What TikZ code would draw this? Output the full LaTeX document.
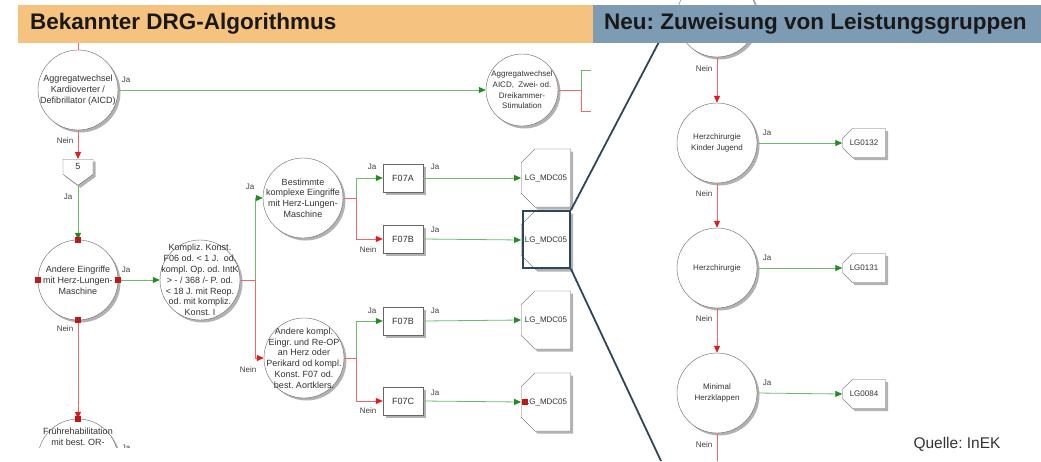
\documentclass[tikz,border=0pt]{standalone}
\usepackage{fontspec}
\setmainfont{Liberation Sans}
\usetikzlibrary{arrows.meta,positioning,shapes.misc,shapes.symbols,shadows}

\definecolor{drgorange}{HTML}{F6C27F}
\definecolor{lgblue}{HTML}{7E9BB4}
\definecolor{jaline}{HTML}{6CBB6C}
\definecolor{jatip}{HTML}{238C23}
\definecolor{neinline}{HTML}{EA6B6D}
\definecolor{neintip}{HTML}{E31B1B}
\definecolor{zoomblue}{HTML}{2E4659}

\begin{document}
\frenchspacing
\begin{tikzpicture}[
    x=1pt, y=-1pt,
    shadowed/.style={drop shadow={shadow xshift=2.5pt, shadow yshift=-2.5pt, fill=black!30, opacity=1}},
    dec/.style={circle, draw=black!60, fill=white, minimum size=80pt, inner sep=0pt, shadowed},
    ctext/.style={align=center, font=\fontsize{9}{10.8}\selectfont, text=black!80, inner sep=0pt},
    rtext/.style={ctext, font=\fontsize{8}{10.7}\selectfont},
    drg/.style={rectangle, draw=black!60, fill=white, minimum width=40pt, minimum height=28pt, font=\fontsize{9}{10}\selectfont, text=black!80, shadowed},
    lg/.style={chamfered rectangle, chamfered rectangle corners={north west,south west}, chamfered rectangle sep=7pt, draw=black!60, fill=white, minimum width=43pt, minimum height=29pt, inner sep=0pt, font=\fontsize{8}{10}\selectfont, text=black!80, shadowed},
    mdc/.style={lg, chamfered rectangle sep=10pt, minimum width=42pt, minimum height=58pt},
    jump/.style={signal, signal to=south, signal pointer angle=108, draw=black!60, fill=white, minimum width=30pt, minimum height=17pt, inner sep=0pt, font=\fontsize{9}{10}\selectfont, text=black!80, shadowed},
    japlain/.style={draw=jaline, line width=0.8pt},
    neinplain/.style={draw=neinline, line width=0.8pt},
    ja/.style={japlain, -{Triangle[length=7pt, width=6pt, color=jatip]}},
    nein/.style={neinplain, -{Triangle[length=7pt, width=6pt, color=neintip]}},
    lbl/.style={font=\fontsize{8}{10}\selectfont, text=black!75, inner sep=0pt},
    handle/.style={rectangle, fill=neintip!85!black, minimum size=6pt, inner sep=0pt},
    band/.style={anchor=west, inner sep=0pt, font=\fontsize{22.5}{24}\selectfont\bfseries, text=black!90}
]
    \useasboundingbox (0,0) rectangle (1041,461);

    % links: bekannter Algorithmus
    \begin{scope}
        \clip (0,43) rectangle (593,447);
        \node[dec, label={[ctext]center:Aggregatwechsel\\Kardioverter /\\Defibrillator (AICD)}] (AICD) at (78,90) {};
        \node[dec, minimum size=72pt, label={[rtext]center:Aggregatwechsel\\AICD,\ \ Zwei- od.\\Dreikammer-\\Stimulation}] (AICD2) at (522,90) {};
        \node[jump, anchor=north] (S5) at (78,159) {5};
        \node[dec, label={[ctext]center:Andere Eingriffe\\mit Herz-Lungen-\\Maschine}] (HLM) at (78,280) {};
        \node[dec, label={[ctext]center:Kompliz. Konst.\\F06 od. < 1 J.\ \ od.\\kompl. Op. od. IntK\\> - / 368 /- P. od.\\< 18 J. mit Reop.\\od. mit kompliz.\\Konst. I}] (KK) at (200,280) {};
        \node[dec, label={[ctext]center:Bestimmte\\komplexe Eingriffe\\mit Herz-Lungen-\\Maschine}] (BKE) at (303,198) {};
        \node[dec, label={[ctext]center:Andere kompl.\\Eingr. und Re-OP\\an Herz oder\\Perikard od kompl.\\Konst. F07 od.\\best. Aortklers.}] (AKE) at (304,358) {};
        \node[dec, label={[ctext, anchor=north, yshift=-9pt]north:Frührehabilitation\\mit best. OR-}] (FR) at (78,459) {};

        \node[drg] (F07A) at (403,178) {F07A};
        \node[drg] (F07B) at (403,239) {F07B};
        \node[drg] (F07Bx) at (403,321) {F07B};
        \node[drg] (F07C) at (403,401) {F07C};
        \node[mdc] (M1) at (546,178) {LG\_MDC05};
        \node[mdc] (M2) at (546,240) {LG\_MDC05};
        \node[mdc] (M3) at (546,320) {LG\_MDC05};
        \node[mdc] (M4) at (546,402) {LG\_MDC05};

        \coordinate (inA) at (78,43);
        \coordinate (bB) at (581,90);
        \coordinate (bBt) at (591,70);
        \coordinate (bBb) at (591,111);
        \coordinate (bKK) at (255,280);
        \coordinate (bBKE) at (356,198);
        \coordinate (bAKE) at (356,358);

        \draw[neinplain] (inA) -- (AICD.north);
        \draw[ja] (AICD.east) -- (AICD2.west);
        \draw[neinplain] (AICD2.east) -- (bB);
        \draw[japlain] (bB) |- (bBt);
        \draw[neinplain] (bB) |- (bBb);
        \draw[nein] (AICD.south) -- (S5.north);
        \draw[ja] (S5.south) -- (HLM.north);
        \draw[ja] (HLM.east) -- (KK.west);
        \draw[nein] (HLM.south) -- (FR.north);
        \draw[neinplain] (KK.east) -- (bKK);
        \draw[ja] (bKK) |- (BKE.west);
        \draw[nein] (bKK) |- (AKE.west);
        \draw[neinplain] (BKE.east) -- (bBKE);
        \draw[ja] (bBKE) |- (F07A.west);
        \draw[nein] (bBKE) |- (F07B.west);
        \draw[neinplain] (AKE.east) -- (bAKE);
        \draw[ja] (bAKE) |- (F07Bx.west);
        \draw[nein] (bAKE) |- (F07C.west);
        \draw[ja] (F07A.east) -- (M1.west);
        \draw[ja] (F07B.east) -- (M2.west);
        \draw[ja] (F07Bx.east) -- (M3.west);
        \draw[ja] (F07C.east) -- (M4.west);

        \foreach \a in {north,south,east,west}
            \node[handle] (h\a) at (HLM.\a) {};
        \node[handle] (hFR) at (FR.north) {};
        \node[handle] (hM4) at ([xshift=4pt]M4.west) {};

        \node[lbl] (jaAICD) at (126,80) {Ja};
        \node[lbl] (neinAICD) at (65,141) {Nein};
        \node[lbl] (jaS5) at (68,197) {Ja};
        \node[lbl] (jaHLM) at (126,270) {Ja};
        \node[lbl] (neinHLM) at (65,329) {Nein};
        \node[lbl] (jaKK) at (250,187) {Ja};
        \node[lbl] (neinKK) at (248,370) {Nein};
        \node[lbl] (jaBKE) at (372,167) {Ja};
        \node[lbl] (jaF07A) at (435,167) {Ja};
        \node[lbl] (neinBKE) at (368,250) {Nein};
        \node[lbl] (jaF07B) at (435,230) {Ja};
        \node[lbl] (jaAKE) at (372,311) {Ja};
        \node[lbl] (jaF07Bx) at (435,311) {Ja};
        \node[lbl] (neinAKE) at (368,411) {Nein};
        \node[lbl] (jaF07C) at (435,393) {Ja};
        \node[lbl] (jaFR) at (126,448) {Ja};
    \end{scope}

    % rechts: Leistungsgruppen
    \node[dec] (R0) at (717,17) {};
    \node[dec, label={[rtext]center:Herzchirurgie\\Kinder Jugend}] (HKJ) at (717,143) {};
    \node[dec, label={[rtext]center:Herzchirurgie}] (HC) at (717,268) {};
    \node[dec, label={[rtext]center:Minimal\\Herzklappen}] (MH) at (717,393) {};
    \node[lg] (L132) at (864,143) {LG0132};
    \node[lg] (L131) at (864,268) {LG0131};
    \node[lg] (L084) at (864,394) {LG0084};
    \coordinate (rEnd) at (717,461);

    \draw[nein] (R0.south) -- (HKJ.north);
    \draw[nein] (HKJ.south) -- (HC.north);
    \draw[nein] (HC.south) -- (MH.north);
    \draw[neinplain] (MH.south) -- (rEnd);
    \draw[ja] (HKJ.east) -- (L132.west);
    \draw[ja] (HC.east) -- (L131.west);
    \draw[ja] (MH.east) -- (L084.west);

    \node[lbl] (neinR0) at (704,69) {Nein};
    \node[lbl] (jaHKJ) at (767,133) {Ja};
    \node[lbl] (neinHKJ) at (704,194) {Nein};
    \node[lbl] (jaHC) at (767,258) {Ja};
    \node[lbl] (neinHC) at (704,319) {Nein};
    \node[lbl] (jaMH) at (767,383) {Ja};
    \node[lbl] (neinMH) at (704,445) {Nein};

    % Lupe
    \node[draw=zoomblue, line width=1.8pt, minimum width=47pt, minimum height=57pt, inner sep=0pt] (Z) at (546.5,239.5) {};
    \coordinate (zTop) at (660,40);
    \coordinate (zBot) at (661,461);
    \draw[zoomblue, line width=1.8pt] (Z.north east) -- (zTop);
    \draw[zoomblue, line width=1.8pt] (Z.south east) -- (zBot);

    % Kopfzeilen
    \fill[drgorange] (18,5) rectangle (593,43);
    \fill[lgblue] (593,5) rectangle (1041,43);
    \node[band] (hDRG) at (30,24) {Bekannter DRG-Algorithmus};
    \node[band] (hLG) at (604,24) {Neu: Zuweisung von Leistungsgruppen};

    \node[font=\fontsize{15.5}{17}\selectfont, text=black!80, inner sep=0pt] (src) at (957,444) {Quelle: InEK};
\end{tikzpicture}
\end{document}
